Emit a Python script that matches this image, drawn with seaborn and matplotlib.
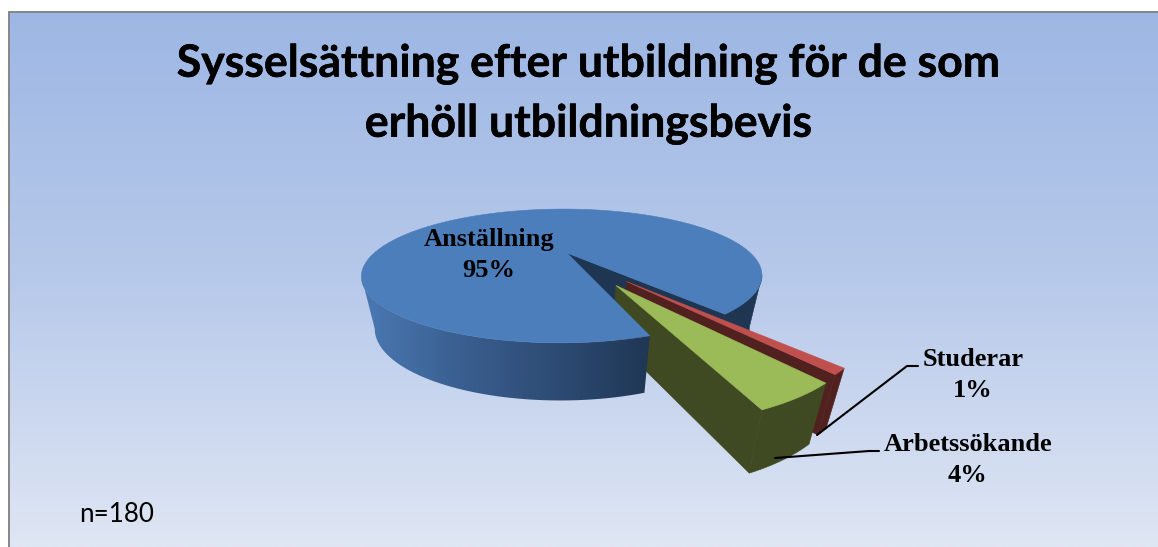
import matplotlib
matplotlib.use("Agg")
import matplotlib.pyplot as plt
from matplotlib.patches import Polygon
import matplotlib.patheffects as pe
import numpy as np
import seaborn as sns

# chart data
labels = ["Anställning", "Studerar", "Arbetssökande"]
shares = [94.51, 1.0, 4.49]
sample_note = "n=180"
title_lines = ["Sysselsättning efter utbildning för de som", "erhöll utbildningsbevis"]

# look of the fake-3D pie, in pixels of the 1158x547 canvas
CX = 567
TOP = (188.0, 59.0, 253.0)
BOTTOM = (175.8, 64.0, 303.0)
PERSP_Y = 0.343
PERSP_X = 0.025
START_ANGLE = -51.0
CUT_GAP = 1.8
EXPLODE = [0.0, 0.50, 0.515]
EXPLODE_SHIFT = [0.0, -4.0, -2.0]
TOP_COLORS = ["#4C7EBB", "#C0504D", "#9BBB59"]
WALL_COLORS = ["#1F3653", "#512120", "#3F4A22"]


def project(x, y, plane):
    a, b, cy = plane
    w = 1 + PERSP_Y * y + PERSP_X * x
    return CX + a * x / w, cy - b * y / w


def arc(theta, offset=(0.0, 0.0)):
    rad = np.radians(theta)
    return np.cos(rad) + offset[0], np.sin(rad) + offset[1]


def face(ax, xy, color, zorder):
    ax.fill(*zip(*xy), color=color, lw=0.4, zorder=zorder)


def wall_outline(theta, offset):
    x, y = arc(theta, offset)
    tx, ty = project(x, y, TOP)
    bx, by = project(x, y, BOTTOM)
    return list(zip(tx, ty)) + list(zip(bx[::-1], by[::-1]))


def radial_wall(ax, angle, offset, color, zorder):
    ex, ey = arc(np.array([angle]), offset)
    quad = [
        project(offset[0], offset[1], TOP),
        project(ex[0], ey[0], TOP),
        project(ex[0], ey[0], BOTTOM),
        project(offset[0], offset[1], BOTTOM),
    ]
    face(ax, quad, color, zorder)


def top_face(ax, theta, offset, color, zorder):
    x, y = arc(theta, offset)
    px, py = project(x, y, TOP)
    face(ax, [project(offset[0], offset[1], TOP)] + list(zip(px, py)), color, zorder)


def exploded_offset(start, end, index):
    mid = np.radians((start + end) / 2 + EXPLODE_SHIFT[index])
    return EXPLODE[index] * np.cos(mid), EXPLODE[index] * np.sin(mid)


def draw_pie(ax):
    spans = np.array(shares, dtype=float) / sum(shares) * 360
    red_start = START_ANGLE - spans[1]
    green_start = red_start - spans[2]
    blue_cut = green_start - CUT_GAP
    blue_end = blue_cut + 360
    # the ellipse silhouette touches the disc here because of the perspective
    side = np.degrees(np.arcsin(PERSP_Y))

    # main slice: back right wall and the exposed cut face sit behind the small slices
    face(ax, wall_outline(np.linspace(START_ANGLE, -side, 40), (0.0, 0.0)), WALL_COLORS[0], 2)
    radial_wall(ax, START_ANGLE, (0.0, 0.0), WALL_COLORS[0], 2)

    # Studerar
    off = exploded_offset(red_start, START_ANGLE, 1)
    radial_wall(ax, red_start, off, WALL_COLORS[1], 3)
    face(ax, wall_outline(np.linspace(red_start, START_ANGLE, 6), off), WALL_COLORS[1], 3)
    top_face(ax, np.linspace(red_start, START_ANGLE, 6), off, TOP_COLORS[1], 4)

    # Arbetssökande
    off = exploded_offset(green_start, red_start, 2)
    radial_wall(ax, green_start, off, WALL_COLORS[2], 5)
    face(ax, wall_outline(np.linspace(green_start, red_start, 12), off), WALL_COLORS[2], 5)
    top_face(ax, np.linspace(green_start, red_start, 12), off, TOP_COLORS[2], 6)

    # main slice front, painted last since it overlaps the green cut face
    outline = wall_outline(np.linspace(side - 180, blue_cut, 130), (0.0, 0.0))
    cmap = sns.blend_palette(["#4A79B2", "#3A5F90", "#2D4B73", "#1F3653"], as_cmap=True)
    shade = ax.imshow(np.linspace(0, 1, 256).reshape(1, -1), cmap=cmap, aspect="auto",
                      extent=(362, 655, 547, 0), zorder=7)
    shade.set_clip_path(Polygon(outline, transform=ax.transData))
    top_face(ax, np.linspace(START_ANGLE, blue_end, 300), (0.0, 0.0), TOP_COLORS[0], 8)


def main():
    sns.set_theme(style="white")
    fig, ax = plt.subplots(figsize=(11.58, 5.47), dpi=100)
    ax.set_position([0, 0, 1, 1])
    ax.axis("off")

    # panel background
    cmap = sns.blend_palette(["#9DB7E4", "#B7C9EA", "#DFE6F4"], as_cmap=True)
    ax.imshow(np.linspace(0, 1, 256).reshape(-1, 1), cmap=cmap, aspect="auto",
              extent=(8.5, 1158, 547, 11.5), zorder=0)
    ax.plot([8.5, 8.5], [547, 11.5], color="#868686", lw=1.4, zorder=1)
    ax.plot([8.5, 1158], [11.5, 11.5], color="#868686", lw=1.4, zorder=1)

    draw_pie(ax)
    ax.set_xlim(0, 1158)
    ax.set_ylim(547, 0)

    # leader lines
    ax.plot([817, 907, 918], [435, 366, 366], color="black", lw=1.5, zorder=9)
    ax.plot([775, 869, 879], [458, 451, 451], color="black", lw=1.5, zorder=9)

    title_font = dict(family="Lato", weight="bold", fontsize=32.1, color="black", ha="center", va="center",
                      path_effects=[pe.withStroke(linewidth=0.35, foreground="black")])
    ax.text(588.5, 64, title_lines[0], zorder=10, **title_font)
    ax.text(588.5, 124, title_lines[1], zorder=10, **title_font)

    label_font = dict(family="Liberation Serif", weight="bold", fontsize=19, color="black",
                      ha="center", va="center", linespacing=1.45)
    ax.text(489, 255, f"{labels[0]}\n{round(shares[0])}%", zorder=10, **label_font)
    ax.text(973, 375, f"{labels[1]}\n{round(shares[1])}%", zorder=10, **label_font)
    ax.text(968, 460, f"{labels[2]}\n{round(shares[2])}%", zorder=10, **label_font)

    ax.text(79, 514, sample_note, family="Lato", fontsize=18.7, color="black", ha="left", va="center", zorder=10)

    fig.savefig("out.png", dpi=100)
    plt.close(fig)


if __name__ == "__main__":
    main()
